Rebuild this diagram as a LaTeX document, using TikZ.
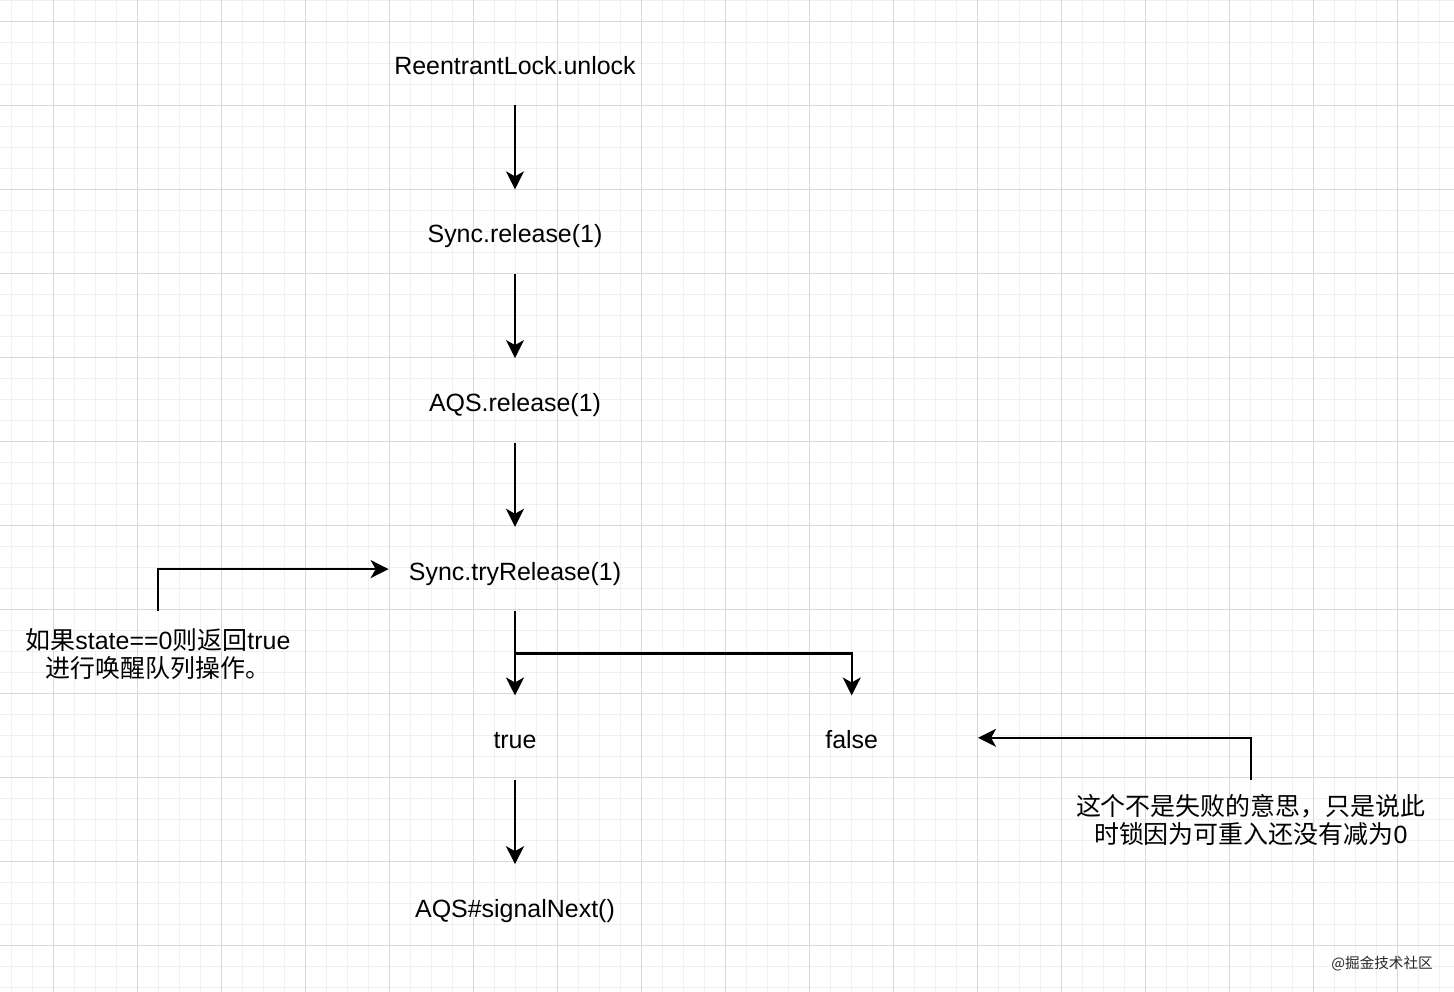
\documentclass[tikz,border=0pt]{standalone}
\usepackage{fontspec}
\setmainfont{Liberation Sans}
\newfontfamily\cjk{Noto Sans CJK SC}
\usetikzlibrary{arrows.meta,positioning}
\definecolor{GridMajor}{HTML}{D8D8D8}
\definecolor{GridMinor}{HTML}{F0F0F0}

\begin{document}
\begin{tikzpicture}[node distance=1.68cm,
    txt/.style={minimum width=5.04cm,minimum height=1.68cm,inner sep=0pt,
      font=\fontsize{14.2}{15.9}\selectfont,align=center},
    p/.style={txt,text height=0.5cm,text depth=0.06cm},
    note/.style={txt,anchor=north},
    arr/.style={line width=1.2pt,-{Stealth[length=0.36cm,width=0.36cm,inset=0.1cm]}}]
  \useasboundingbox (-10.3,1.26) rectangle (18.78,-18.56);
  % grid
  \begin{scope}[xshift=0.01cm,yshift=-0.01cm]
    \clip (-10.31,1.27) rectangle (18.77,-18.55);
    \draw[GridMinor,line width=0.57pt,step=0.42] (-10.5,1.5) grid (19,-19);
    \foreach \k in {-6,...,10}
      \draw[GridMajor,line width=0.57pt] ({0.84+1.68*\k},1.3) -- ({0.84+1.68*\k},-18.6);
    \foreach \k in {0,...,11}
      \draw[GridMajor,line width=0.57pt] (-10.4,{0.84-1.68*\k}) -- (18.8,{0.84-1.68*\k});
  \end{scope}
  \node[p] (unlock) at (0,0) {ReentrantLock.unlock};
  \node[p,below=of unlock] (srel) {Sync.release(1)};
  \node[p,below=of srel] (arel) {AQS.release(1)};
  \node[p,below=of arel] (tryrel) {Sync.tryRelease(1)};
  \node[p,below=of tryrel] (t) {true};
  \node[p,right=of t] (f) {false};
  \node[p,below=of t] (sig) {AQS\#signalNext()};
  % notes
  \node[note] (n1) at ([xshift=-7.14cm]tryrel.south)
    {{\cjk 如果}state==0{\cjk 则返回}true\\{\cjk 进行唤醒队列操作。}};
  \node[note] (n2) at ([xshift=7.98cm,yshift=0.06cm]f.south)
    {{\cjk 这个不是失败的意思，只是说此}\\{\cjk 时锁因为可重入还没有减为}0};
  \draw[arr] (unlock) -- (srel);
  \draw[arr] (srel) -- (arel);
  \draw[arr] (arel) -- (tryrel);
  \draw[arr] (tryrel) -- (t);
  \draw[arr] (tryrel.south) -- ++(0,-0.84) -| (f);
  \draw[arr] (t) -- (sig);
  \draw[arr] (n1) |- (tryrel);
  \draw[arr] ([yshift=-0.06cm]n2.north) |- (f);
  \node[font=\cjk\fontsize{8.3}{9}\selectfont,text=black!85,anchor=west,inner sep=0pt]
    (wm) at (16.32,-18.02) {@掘金技术社区};
\end{tikzpicture}
\end{document}
